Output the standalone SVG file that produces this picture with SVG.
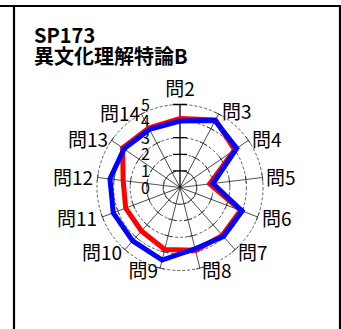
<svg xmlns="http://www.w3.org/2000/svg" xmlns:xlink="http://www.w3.org/1999/xlink" width="341" height="329" viewBox="0 0 341 329">
<style>
.frame{stroke:#000;stroke-width:2.2;fill:none}
.ttl{font-family:"Noto Sans CJK JP","Noto Sans",sans-serif;font-weight:bold;font-size:20px;fill:#000}
.lbl{font-family:"Noto Sans CJK JP","Noto Sans",sans-serif;font-size:19px;fill:#000}
.num{font-family:"Noto Sans CJK JP","Noto Sans",sans-serif;font-size:16px;fill:#000;text-anchor:end}
.ring{fill:none;stroke:#333;stroke-width:0.8;stroke-dasharray:3 2}
.ax{stroke:#333;stroke-width:0.8;fill:none}
.ax0{stroke:#000;stroke-width:1.3;fill:none}
.s1{fill:none;stroke:#ff0000;stroke-width:5;stroke-linejoin:miter}
.s2{fill:none;stroke:#0000ff;stroke-width:5;stroke-linejoin:miter}
.r{text-anchor:end}
.m{text-anchor:middle}
</style>
<defs>
<g id="axis"><path d="M0,0H83M16.6,-4V4M33.2,-4V4M49.8,-4V4M66.4,-4V4M83,-4V4"/></g>
<g id="axis0"><path d="M0,0H83M16.6,-7V7M33.2,-7V7M49.8,-7V7M66.4,-7V7M83,-7V7"/></g>
</defs>
<rect width="341" height="329" fill="#fff"/>
<path class="frame" d="M0,6H340V329M14,6V329"/>
<g id="title">
<text class="ttl" x="34" y="43">SP173</text>
<text class="ttl" x="34" y="64">異文化理解特論B</text>
</g>
<g id="grid">
<g class="ring" transform="translate(180,187.5)">
<circle r="16.6"/><circle r="33.2"/><circle r="49.8"/><circle r="66.4"/><circle r="83"/>
</g>
<g class="ax" transform="translate(180,187.5)">
<use xlink:href="#axis" transform="rotate(-62.3077)"/>
<use xlink:href="#axis" transform="rotate(-34.6154)"/>
<use xlink:href="#axis" transform="rotate(-6.9231)"/>
<use xlink:href="#axis" transform="rotate(20.7692)"/>
<use xlink:href="#axis" transform="rotate(48.4615)"/>
<use xlink:href="#axis" transform="rotate(76.1538)"/>
<use xlink:href="#axis" transform="rotate(103.8462)"/>
<use xlink:href="#axis" transform="rotate(131.5385)"/>
<use xlink:href="#axis" transform="rotate(159.2308)"/>
<use xlink:href="#axis" transform="rotate(186.9231)"/>
<use xlink:href="#axis" transform="rotate(214.6154)"/>
<use xlink:href="#axis" transform="rotate(242.3077)"/>
</g>
<g class="ax0" transform="translate(180,187.5)">
<use xlink:href="#axis0" transform="rotate(-90)"/>
</g>
<g id="scale">
<text class="num" x="150" y="193.5">0</text>
<text class="num" x="150" y="176.9">1</text>
<text class="num" x="150" y="160.3">2</text>
<text class="num" x="150" y="143.7">3</text>
<text class="num" x="150" y="127.1">4</text>
<text class="num" x="150" y="110.5">5</text>
</g>
</g>
<g id="series">
<polygon id="series-red" class="s1" points="180,118.61 215.49,119.89 234.65,149.78 209.66,183.9 240.53,210.46 222.38,235.34 195.49,250.36 164.7,249.55 141.47,230.99 125.68,208.1 123.15,180.6 122.62,147.89 148.76,127.97"/>
<polygon id="series-blue" class="s2" points="180,121.1 215.1,120.62 236.7,148.37 212.96,183.5 242.09,211.05 223.48,236.58 195.1,248.75 162.12,260.03 132.67,240.93 113.26,212.81 109.96,179 123.99,148.84 149.53,129.44"/>
</g>
<g id="labels">
<text class="lbl m" x="180" y="96">問2</text>
<text class="lbl" x="222" y="119">問3</text>
<text class="lbl" x="252" y="147">問4</text>
<text class="lbl" x="266" y="185">問5</text>
<text class="lbl" x="262" y="226">問6</text>
<text class="lbl" x="238" y="260">問7</text>
<text class="lbl" x="202" y="278">問8</text>
<text class="lbl r" x="158" y="278">問9</text>
<text class="lbl r" x="122" y="260">問10</text>
<text class="lbl r" x="97" y="226">問11</text>
<text class="lbl r" x="93" y="185">問12</text>
<text class="lbl r" x="108" y="147">問13</text>
<text class="lbl r" x="140" y="121">問14</text>
</g>
</svg>
